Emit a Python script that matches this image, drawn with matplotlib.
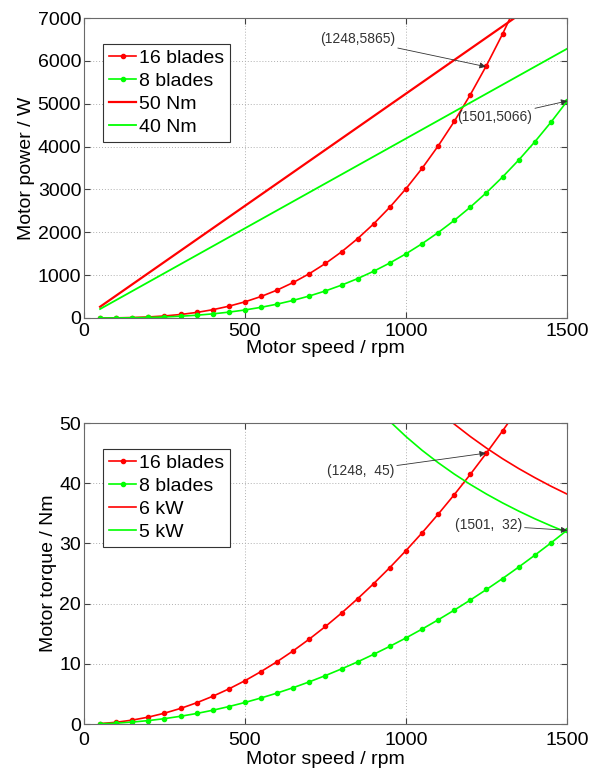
import matplotlib
matplotlib.use("Agg")
import matplotlib.pyplot as plt

plt.rcParams['font.family'] = ['Liberation Sans', 'DejaVu Sans']

# Motor speed grid (rpm) for the fan curves
speed_16 = [50, 100, 150, 200, 250, 300, 350, 400, 450, 500, 550, 600, 650, 700,
            750, 800, 850, 900, 950, 1000, 1050, 1100, 1150, 1200, 1250, 1300, 1350]
speed_8 = [50, 100, 150, 200, 250, 300, 350, 400, 450, 500, 550, 600, 650, 700,
           750, 800, 850, 900, 950, 1000, 1050, 1100, 1150, 1200, 1250, 1300,
           1350, 1400, 1450, 1500]

# Motor power (W)
power_16 = [0.4, 3.0, 10.2, 24.1, 47.1, 81.5, 129.4, 193.1, 274.9, 377.1, 502.0,
            651.7, 828.6, 1034.8, 1272.8, 1544.7, 1852.9, 2199.4, 2586.8, 3017.0,
            3492.5, 4015.6, 4588.5, 5213.4, 5892.6, 6628.3, 7422.8]
power_8 = [0.2, 1.5, 5.1, 12.0, 23.4, 40.4, 64.2, 95.9, 136.5, 187.3, 249.3, 323.6,
           411.4, 513.8, 632.0, 767.0, 920.0, 1092.0, 1284.4, 1498.0, 1734.1,
           1993.8, 2278.3, 2588.5, 2925.8, 3291.1, 3685.6, 4110.5, 4567.2, 5055.8]

# Motor torque (Nm)
torque_16 = [0.07, 0.29, 0.65, 1.15, 1.80, 2.59, 3.53, 4.61, 5.83, 7.20, 8.72,
             10.37, 12.17, 14.12, 16.21, 18.44, 20.82, 23.34, 26.00, 28.81, 31.76,
             34.86, 38.10, 41.49, 45.02, 48.69, 52.51]
torque_8 = [0.04, 0.14, 0.32, 0.57, 0.89, 1.29, 1.75, 2.29, 2.90, 3.58, 4.33, 5.15,
            6.04, 7.01, 8.05, 9.16, 10.33, 11.59, 12.91, 14.30, 15.77, 17.31, 18.92,
            20.60, 22.35, 24.17, 26.07, 28.04, 30.07, 32.18]

# Constant-torque limits (power vs speed)
limit_speed = [50, 1500]
power_50nm = [262, 7854]
power_40nm = [209, 6283]

# Constant-power limits (torque vs speed)
hyp_speed = [850, 900, 950, 1000, 1050, 1100, 1150, 1200, 1250, 1300, 1350, 1400,
             1450, 1500]
torque_6kw = [67.41, 63.66, 60.31, 57.30, 54.57, 52.09, 49.82, 47.75, 45.84, 44.07,
              42.44, 40.93, 39.51, 38.20]
torque_5kw = [56.17, 53.05, 50.26, 47.75, 45.47, 43.41, 41.52, 39.79, 38.20, 36.73,
              35.37, 34.10, 32.93, 31.83]

x_ticks = [0, 500, 1000, 1500]
power_ticks = [0, 1000, 2000, 3000, 4000, 5000, 6000, 7000]
torque_ticks = [0, 10, 20, 30, 40, 50]

RED = (1, 0, 0)
GREEN = (0, 1, 0)
FS = 14

fig = plt.figure(figsize=(5.97, 7.69), dpi=100)
ax1 = fig.add_axes([0.1407, 0.5865, 0.809, 0.390])
ax2 = fig.add_axes([0.1407, 0.0585, 0.809, 0.3914])


def style(ax, yticks, ylabel, xpad, xlabelpad):
    ax.set_xlim(0, 1500)
    ax.set_ylim(yticks[0], yticks[-1])
    ax.set_xticks(x_ticks)
    ax.set_yticks(yticks)
    ax.grid(True, linestyle=(0, (1, 2)), color='#b0b0b0', linewidth=0.7)
    ax.tick_params(direction='in', labelsize=FS, length=4, color='#404040',
                   top=True, right=True, pad=2)
    ax.tick_params(axis='x', pad=xpad)
    for s in ax.spines.values():
        s.set_color('#6a6a6a')
        s.set_linewidth(0.8)
    ax.set_xlabel('Motor speed / rpm', fontsize=FS, labelpad=xlabelpad)
    ax.set_ylabel(ylabel, fontsize=FS, labelpad=2)


def legend(ax, labels):
    leg = ax.legend(labels=labels, loc='upper left', bbox_to_anchor=(0.04, 0.915),
                    fontsize=FS, handlelength=1.4, handletextpad=0.12,
                    borderpad=0.3, labelspacing=0.28, fancybox=False,
                    framealpha=1, borderaxespad=0)
    leg.get_frame().set_edgecolor('#333333')
    leg.get_frame().set_linewidth(0.8)


arrow = dict(arrowstyle='-|>', color='#333333', lw=0.6, mutation_scale=9,
             shrinkA=0, shrinkB=0)
ann_fs = 10

# Power plot
ax1.plot(speed_16, power_16, '-', color=RED, marker='.', markersize=6, lw=1.2)
ax1.plot(speed_8, power_8, '-', color=GREEN, marker='.', markersize=6, lw=1.2)
ax1.plot(limit_speed, power_50nm, '-', color=RED, lw=1.6)
ax1.plot(limit_speed, power_40nm, '-', color=GREEN, lw=1.3)
style(ax1, power_ticks, 'Motor power / W', 3.5, 0)
legend(ax1, ['16 blades', '8 blades', '50 Nm', '40 Nm'])
ax1.annotate('(1248,5865)', xy=(1248, 5865), xytext=(966, 6500),
             fontsize=ann_fs, ha='right', va='center', arrowprops=arrow,
             color='#333333')
ax1.annotate('(1501,5066)', xy=(1501, 5066), xytext=(1392, 4680),
             fontsize=ann_fs, ha='right', va='center', arrowprops=arrow,
             color='#333333')

# Torque plot
ax2.plot(speed_16, torque_16, '-', color=RED, marker='.', markersize=6, lw=1.2)
ax2.plot(speed_8, torque_8, '-', color=GREEN, marker='.', markersize=6, lw=1.2)
ax2.plot(hyp_speed, torque_6kw, '-', color=RED, lw=1.2)
ax2.plot(hyp_speed, torque_5kw, '-', color=GREEN, lw=1.2)
style(ax2, torque_ticks, 'Motor torque / Nm', 6, 1)
legend(ax2, ['16 blades', '8 blades', '6 kW', '5 kW'])
ax2.annotate('(1248,  45)', xy=(1248, 45), xytext=(963, 42.1),
             fontsize=ann_fs, ha='right', va='center', arrowprops=arrow,
             color='#333333')
ax2.annotate('(1501,  32)', xy=(1501, 32.18), xytext=(1360, 33.0),
             fontsize=ann_fs, ha='right', va='center', arrowprops=arrow,
             color='#333333')

fig.savefig('out.png', dpi=100)
